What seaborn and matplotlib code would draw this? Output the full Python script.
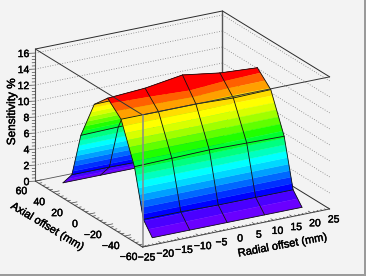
import matplotlib
matplotlib.use('Agg')
import matplotlib.pyplot as plt
from matplotlib.patches import Rectangle
from matplotlib.patheffects import withStroke
from mpl_toolkits.mplot3d import proj3d
from mpl_toolkits.mplot3d.art3d import Poly3DCollection
import seaborn as sns
import numpy as np

radial = [-20, -10, 0, 10, 20]
axial = [-50, -40, -30, -15, 0, 15, 30, 40, 50]
sens = [
    [0.0, 0.0, 0.0, 0.0, 0.0],
    [1.6, 1.6, 1.5, 1.5, 1.5],
    [7.5, 7.6, 7.7, 7.6, 7.5],
    [12.4, 12.4, 12.4, 12.2, 12.3],
    [14.0, 14.3, 15.0, 14.3, 14.0],
    [12.2, 12.3, 12.4, 12.3, 12.2],
    [7.3, 7.4, 7.5, 7.4, 7.3],
    [1.7, 1.7, 1.6, 1.6, 1.6],
    [0.0, 0.0, 0.0, 0.0, 0.0],
]
z_ticks = [0, 2, 4, 6, 8, 10, 12, 14, 16]
axial_ticks = [60, 40, 20, 0, -20, -40, -60]
radial_ticks = [-25, -20, -15, -10, -5, 0, 5, 10, 15, 20, 25]
levels = [0, 0.73, 1.46, 2.19, 2.92, 3.65, 4.38, 5.11, 5.84, 6.57, 7.3, 8.03, 8.76,
          9.49, 10.22, 10.95, 11.68, 12.41, 13.0, 13.6, 16.0]
band_colors = ['#6a00ff', '#4a00ff', '#0000ff', '#0030ff', '#0068ff', '#00a0ff', '#00d8ff',
               '#00ffff', '#00ffc0', '#00ff80', '#00ff30', '#20ff00', '#60ff00', '#a0ff00',
               '#d8ff00', '#ffff00', '#ffdd00', '#ffa000', '#ff6000', '#ff0000']

XMIN, XMAX = -25, 25
YMIN, YMAX = -60, 60
ZMAX = 16.5
BG = '#f3f3f3'
INK = '#2a2a2a'

sns.set_theme(style='white')
plt.rcParams['font.family'] = ['Liberation Sans', 'DejaVu Sans']


def clip_z(poly, z0, keep_above):
    out = []
    for i in range(len(poly)):
        a, b = poly[i], poly[(i + 1) % len(poly)]
        ina = a[2] >= z0 if keep_above else a[2] <= z0
        inb = b[2] >= z0 if keep_above else b[2] <= z0
        if ina:
            out.append(a)
        if ina != inb:
            t = (z0 - a[2]) / (b[2] - a[2])
            out.append(a + t * (b - a))
    return out


def band_polys(rows):
    # cut every grid cell into the colour bands
    polys, cols = [], []
    for j in rows:
        for i in range(len(radial) - 1):
            p = [np.array([radial[i + m], axial[j + n], sens[j + n][i + m]], dtype=float)
                 for m, n in [(0, 0), (1, 0), (1, 1), (0, 1)]]
            for k in range(len(band_colors)):
                q = clip_z(p, levels[k], True)
                if len(q) >= 3:
                    q = clip_z(q, levels[k + 1], False)
                if len(q) >= 3:
                    polys.append(np.array(q))
                    cols.append(band_colors[k])
    return polys, cols


fig = plt.figure(figsize=(3.68, 2.76), dpi=100, facecolor='white')
fig.add_artist(Rectangle((0, 0), 1, 1, transform=fig.transFigure, color='white', zorder=-3))
fig.add_artist(Rectangle((0, 0.5 / 276), 366 / 368, 275.5 / 276, transform=fig.transFigure,
                         color='#9a9a9a', zorder=-2, lw=0))
fig.add_artist(Rectangle((0, 2 / 276), 364 / 368, 274 / 276, transform=fig.transFigure,
                         color=BG, zorder=-1, lw=0))

ax = fig.add_axes([15.1 / 368, -20.4 / 276, 326 / 368, 326 / 276], projection='3d')
ax.patch.set_alpha(0)
ax.set_proj_type('ortho')
ax.set_axis_off()
ax.computed_zorder = False
ax.view_init(elev=20.7, azim=-119.9)
ax.set_xlim(XMIN, XMAX)
ax.set_ylim(YMIN, YMAX)
ax.set_zlim(0, ZMAX)
ax.set_box_aspect((215.7, 214.8, 141.1))


def seg(xs, ys, zs, z=0, color=INK, lw=0.7, ls='-'):
    ax.plot(xs, ys, zs, color=color, lw=lw, ls=ls, zorder=z, clip_on=False)


def label(x, y, z, text, dx, dy, ha='center'):
    # tick label pinned to a data point, offset in pixels
    x2, y2, _ = proj3d.proj_transform(x, y, z, ax.get_proj())
    ax.annotate(text, xy=(x2, y2), xycoords='data', xytext=(dx, dy), textcoords='offset pixels',
                ha=ha, va='center', fontsize=7.5, color='black', annotation_clip=False, zorder=6,
                path_effects=[withStroke(linewidth=0.3, foreground='black')])


# back walls
for t in z_ticks[1:]:
    seg([XMIN, XMAX], [YMAX, YMAX], [t, t], color='#808080', lw=0.6, ls=(0, (1, 2)))
    seg([XMAX, XMAX], [YMAX, YMIN], [t, t], color='#808080', lw=0.6, ls=(0, (1, 2)))
seg([XMIN, XMAX], [YMAX, YMAX], [0, 0], lw=0.6, color='#555555')
seg([XMAX, XMAX], [YMAX, YMIN], [0, 0], lw=0.7)
seg([XMAX, XMAX], [YMAX, YMAX], [0, ZMAX], lw=1.0, color='#555555')
seg([XMIN, XMIN], [YMAX, YMAX], [0, ZMAX], lw=0.8, color='#555555')
seg([XMIN, XMAX], [YMAX, YMAX], [ZMAX, ZMAX])
seg([XMAX, XMAX], [YMAX, YMIN], [ZMAX, ZMAX])

# surface, back half first then front half
rows_back = range(4, len(axial) - 1)
rows_front = range(0, 4)
for rows, base in [(rows_back, 1), (rows_front, 3)]:
    polys, cols = band_polys(rows)
    pc = Poly3DCollection(polys, facecolors=cols, edgecolors=cols, linewidths=0.25, zorder=base)
    ax.add_collection3d(pc, autolim=False)

sens_arr = np.array(sens)
for j, y in enumerate(axial):
    z = 4 if y <= 0 else 2
    seg(radial, [y] * len(radial), sens_arr[j], z=z, color='#111111', lw=0.6)
for i, x in enumerate(radial):
    back = axial.index(0)
    seg([x] * (back + 1), axial[:back + 1], sens_arr[:back + 1, i], z=4, color='#111111', lw=0.6)
    seg([x] * (len(axial) - back), axial[back:], sens_arr[back:, i], z=2, color='#111111', lw=0.6)

# front box lines
seg([XMIN, XMIN], [YMIN, YMAX], [ZMAX, ZMAX], z=5, lw=0.7, color='#333333')
seg([XMIN, XMAX], [YMIN, YMIN], [ZMAX, ZMAX], z=5, lw=0.7, color='#333333')
seg([XMIN, XMIN], [YMIN, YMIN], [0, ZMAX], z=5, lw=1.1, color='#8a8a8a')
seg([XMIN, XMIN], [YMIN, YMAX], [0, 0], z=5, lw=0.7, color='#444444')
seg([XMIN, XMAX], [YMIN, YMIN], [0, 0], z=5, lw=0.7, color='#444444')

# ticks
for t in np.arange(XMIN, XMAX + 0.1, 1):
    d = 3.0 if t % 5 == 0 else 1.6
    seg([t, t], [YMIN, YMIN + d], [0, 0], z=5, lw=0.5, color='#444444')
for t in np.arange(YMIN, YMAX + 0.1, 4):
    d = 1.6 if t % 20 == 0 else 0.8
    seg([XMIN, XMIN + d], [t, t], [0, 0], z=5, lw=0.5, color='#444444')
for t in np.arange(0, 16.1, 0.4):
    d = 1.3 if abs(t % 2) < 1e-6 or abs(t % 2 - 2) < 1e-6 else 0.7
    seg([XMIN - d, XMIN], [YMAX + d, YMAX], [t, t], z=5, lw=0.5, color='#444444')

# tick labels
for t in z_ticks:
    label(XMIN, YMAX, t, str(t), -6, -1, ha='right')
for t in axial_ticks:
    label(XMIN, t, 0, str(t).replace('-', '\u2212'), -14, -10)
for t in radial_ticks:
    label(t, YMIN, 0, str(t).replace('-', '\u2212'), 4, -10.5)

stroke = [withStroke(linewidth=0.3, foreground='black')]
fig.text(12 / 368, 1 - 112 / 276, 'Sensitivity %', rotation=90, ha='center', va='center',
         fontsize=8.5, color='black', path_effects=stroke)
fig.text(47.5 / 368, 1 - 226.7 / 276, 'Axial offset (mm)', rotation=-31, ha='center', va='center',
         fontsize=8, color='black', rotation_mode='anchor', path_effects=stroke)
fig.text(282.7 / 368, 1 - 245.3 / 276, 'Radial offset (mm)', rotation=10.6, ha='center', va='center',
         fontsize=8, color='black', rotation_mode='anchor', path_effects=stroke)

fig.savefig('out.png', dpi=100, facecolor='white')
